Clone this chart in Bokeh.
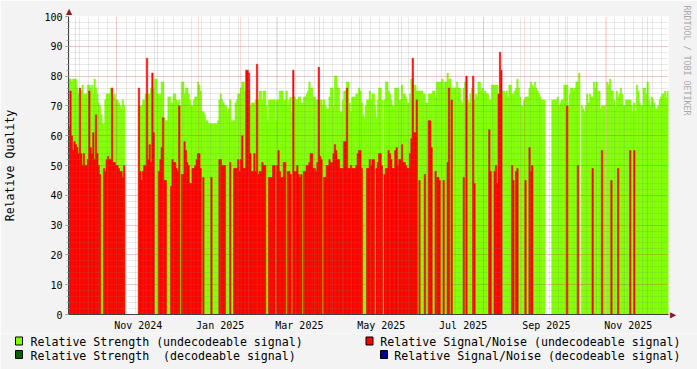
import math
import numpy as np
import pandas as pd
from datetime import datetime
from bokeh.plotting import figure
from bokeh.models import (Range1d, ColumnDataSource, FixedTicker, SingleIntervalTicker,
                          Grid, Title, DatetimeTickFormatter)
from bokeh.layouts import column
from bokeh.embed import file_html
from bokeh.resources import INLINE
from bokeh.core.properties import value

N = None
# Daily values starting 2024-09-26 (None = no data)
strength = [
    79,79,78,79,79,79,76,74,74,75,
    77,74,74,74,77,77,76,77,74,79,
    76,74,71,70,67,64,64,72,74,
    74,74,76,74,73,74,72,72,71,70,
    69,72,70,N,N,N,N,N,N,N,
    N,N,N,70,70,70,72,72,74,74,
    74,74,76,76,76,79,79,74,74,74,
    78,78,66,65,65,73,73,71,71,74,
    74,72,71,72,70,78,78,74,76,76,
    74,72,70,70,72,73,73,78,77,75,
    68,68,67,65,65,64,64,64,64,64,
    64,64,65,72,74,72,71,70,70,
    68,69,72,65,65,65,71,72,74,74,
    76,78,78,75,75,75,75,70,71,71,
    71,72,72,72,75,75,72,75,75,70,
    65,72,72,72,72,72,65,72,72,75,
    75,75,72,72,75,70,72,73,68,73,
    73,72,72,73,73,71,71,73,73,74,
    75,78,76,76,73,73,72,72,72,72,
    72,70,72,70,69,69,73,76,76,70,
    80,80,76,76,68,68,72,75,75,
    78,78,71,68,73,73,73,74,74,76,
    75,71,67,66,70,72,72,75,72,74,
    74,70,66,72,76,76,72,N,72,78,
    78,75,74,72,70,70,76,76,76,72,
    72,77,74,74,73,71,71,74,79,79,
    77,77,75,75,75,75,75,74,74,71,
    71,74,74,74,75,75,73,78,78,78,
    78,79,76,78,78,81,79,79,76,76,
    76,76,78,76,76,72,71,76,78,78,
    72,71,74,76,76,72,74,73,78,78,
    75,76,74,75,74,74,72,72,77,
    77,77,77,77,74,74,74,75,75,74,
    75,73,77,77,74,74,75,76,79,76,
    73,70,70,72,73,73,73,76,78,77,
    76,78,76,75,74,73,72,72,72,N,
    N,N,N,N,72,72,72,72,73,70,
    71,72,72,77,77,77,70,74,76,76,
    75,76,78,78,81,N,70,69,68,70,
    74,71,74,73,73,78,76,78,75,75,
    69,70,70,70,N,78,77,79,75,75,
    72,70,75,73,74,76,74,70,70,72,
    72,72,72,70,68,71,68,77,75,71,
    70,70,76,76,74,78,72,70,73,72,
    71,69,69,70,72,73,74,74,75,73,75,
]
snr = [
    63,75,60,55,58,57,56,54,76,54,
    50,54,50,50,52,75,56,54,61,52,
    67,54,50,47,0,0,49,48,52,
    53,52,52,76,51,51,50,50,49,48,
    48,46,50,N,N,N,N,N,N,N,
    N,N,N,76,48,45,48,50,50,86,
    52,57,51,81,61,0,0,0,48,52,
    56,66,45,45,0,0,0,43,52,51,
    51,49,48,70,0,47,47,58,55,51,
    50,44,44,49,49,50,52,54,54,49,
    0,46,0,0,0,0,0,46,0,0,
    0,0,0,52,52,50,50,50,0,
    0,0,51,0,0,49,49,49,52,48,
    52,60,49,49,82,82,81,54,48,48,
    54,48,84,47,48,48,51,50,50,0,
    0,46,46,46,50,50,0,50,55,48,
    46,46,51,51,0,48,48,47,0,82,
    48,48,50,47,46,47,0,48,48,50,
    50,51,54,54,49,49,48,51,83,53,
    52,0,46,46,50,50,52,51,51,54,
    57,55,52,52,49,49,49,58,58,
    76,49,49,50,49,49,49,50,54,55,
    55,49,0,0,0,49,49,52,50,52,
    52,0,49,51,54,54,50,N,47,49,
    49,55,54,52,49,49,55,56,50,52,
    52,57,51,51,50,49,49,54,59,86,
    61,61,72,0,45,0,0,0,47,0,
    0,65,65,56,0,0,48,46,46,45,
    0,0,45,0,0,51,76,0,72,0,
    0,0,0,0,0,0,0,46,0,80,
    0,0,0,0,80,44,0,0,0,0,
    0,0,0,0,0,0,62,48,0,
    0,48,50,44,74,88,82,0,0,0,
    0,0,0,0,50,45,0,48,49,0,
    0,0,0,0,45,0,0,56,48,50,
    0,0,0,0,0,0,0,0,0,N,
    N,N,N,N,0,0,0,0,0,0,
    0,0,0,0,0,70,0,0,0,0,
    0,0,0,50,0,N,0,0,0,0,
    0,0,0,0,49,0,0,0,0,0,
    0,55,0,0,N,0,0,0,45,0,
    0,0,0,49,0,0,0,0,0,0,
    0,0,55,0,0,55,0,0,0,0,
    0,0,0,0,0,0,0,0,0,0,
    0,0,0,0,0,0,0,0,0,0,0,
]
tick_labels = ["Nov 2024", "Jan 2025", "Mar 2025", "May 2025", "Jul 2025", "Sep 2025", "Nov 2025"]
legend_labels = [
    "Relative Strength (undecodeable signal)",
    "Relative Strength \u00a0(decodeable signal)",
    "Relative Signal/Noise (undecodeable signal)",
    "Relative Signal/Noise (decodeable signal)",
]
legend_colors = ["#80ff00", "#006400", "#ff0000", "#000090"]

BG = "#f3f3f3"
FONT = "DejaVu Sans Mono"
DAY_MS = 86400000
ARROW = "#8b1a1a"

dates = pd.date_range("2024-09-26", periods=len(strength), freq="D") + pd.Timedelta(hours=12)
g = np.array([np.nan if v is None else v for v in strength], dtype=float)
r = np.array([np.nan if (v is None or v == 0) else v for v in snr], dtype=float)
src = ColumnDataSource(dict(x=dates, g=g, r=r))

x_start = datetime(2024, 9, 26)
x_end = datetime(2025, 12, 17)

p = figure(width=697, height=333, x_axis_type="datetime",
           x_range=Range1d(x_start, x_end), y_range=Range1d(0, 100),
           output_backend="svg", toolbar_location=None,
           min_border_left=66, min_border_right=29, min_border_top=16, min_border_bottom=18)
p.title.visible = False
p.frame_align = False
p.background_fill_color = "white"
p.border_fill_color = BG
p.outline_line_color = None

p.vbar(x="x", top="g", bottom=0, width=DAY_MS, source=src,
       fill_color="#80ff00", line_color="#80ff00", line_width=0.6)
p.vbar(x="x", top="r", bottom=0, width=DAY_MS, source=src,
       fill_color="#ff0000", line_color="#ff0000", line_width=0.6)

MAJ, MAJ_A = "#ff0000", 0.28
MIN, MIN_A = "#808080", 0.35

# y axis / grid
p.yaxis.ticker = SingleIntervalTicker(interval=10, num_minor_ticks=5)
p.ygrid.grid_line_color = MAJ
p.ygrid.grid_line_alpha = MAJ_A
p.ygrid.grid_line_dash = "1 1"
p.ygrid.minor_grid_line_color = MIN
p.ygrid.minor_grid_line_alpha = MIN_A
p.ygrid.minor_grid_line_dash = "1 1"
p.ygrid.level = "overlay"

# x grids: weekly minor, monthly major
fridays = pd.date_range("2024-09-27", "2025-12-17", freq="7D")
months = pd.date_range("2024-10-01", "2025-12-01", freq="MS")
p.xgrid.visible = False
gmin = Grid(dimension=0, ticker=FixedTicker(ticks=[t.value / 1e6 for t in fridays]),
            grid_line_color=MIN, grid_line_alpha=MIN_A, grid_line_dash="1 1", level="overlay")
gmaj = Grid(dimension=0, ticker=FixedTicker(ticks=[t.value / 1e6 for t in months]),
            grid_line_color=MAJ, grid_line_alpha=MAJ_A, grid_line_dash="1 1", level="overlay")
p.add_layout(gmin)
p.add_layout(gmaj)

label_pos = pd.to_datetime([pd.Timestamp(datetime.strptime(s, "%b %Y")) for s in tick_labels]) + pd.Timedelta(days=16)
p.xaxis.ticker = FixedTicker(ticks=[t.value / 1e6 for t in label_pos])
fmt = "%b %Y"
p.xaxis.formatter = DatetimeTickFormatter(milliseconds=fmt, seconds=fmt, minsec=fmt, minutes=fmt,
                                          hourmin=fmt, hours=fmt, days=fmt, months=fmt, years=fmt)

for ax in (p.xaxis[0], p.yaxis[0]):
    ax.axis_line_color = "#404040"
    ax.major_label_text_font = FONT
    ax.major_label_text_font_size = "10px"
    ax.major_label_text_color = "black"

p.xaxis.major_tick_out = 0
p.xaxis.major_tick_in = 0
p.xaxis.minor_tick_out = 0
p.xaxis.minor_tick_in = 0
p.xaxis.major_label_standoff = 5

p.yaxis.major_tick_out = 3
p.yaxis.major_tick_in = 0
p.yaxis.minor_tick_out = 2
p.yaxis.minor_tick_in = 0
p.yaxis.major_tick_line_color = "#808080"
p.yaxis.minor_tick_line_color = "#b0b0b0"
p.yaxis.major_label_standoff = 3
p.yaxis.axis_label = "Relative Quality"
p.yaxis.axis_label_text_font = FONT
p.yaxis.axis_label_text_font_size = "11.6px"
p.yaxis.axis_label_text_font_style = "normal"
p.yaxis.axis_label_text_color = "black"
p.yaxis.axis_label_standoff = 24

# arrow heads at the axis ends (titles live outside the frame)
p.add_layout(Title(text="▲", align="left", offset=-2.6, standoff=2, text_font="DejaVu Sans",
                   text_font_size="8px", text_font_style="normal", text_color=ARROW), "above")
p.add_layout(Title(text="▲", align="right", offset=-4, standoff=0, text_font="DejaVu Sans",
                   text_font_size="8px", text_font_style="normal", text_color=ARROW), "right")
# watermark on the right side
p.add_layout(Title(text="RRDTOOL / TOBI OETIKER", align="left", offset=-11, text_font=FONT,
                   text_font_size="8.3px", text_font_style="normal", text_color="#a8a8a8",
                   standoff=4), "right")

# legend panel
lg = figure(width=697, height=36, x_range=Range1d(0, 697), y_range=Range1d(369, 333),
            output_backend="svg", toolbar_location=None, min_border=0,
            x_axis_location=None, y_axis_location=None)
lg.frame_align = False
lg.title.visible = False
lg.grid.visible = False
lg.outline_line_color = None
lg.background_fill_color = BG
lg.border_fill_color = BG
lg.rect(x=[18.5, 18.5, 369, 383.5], y=[340.5, 354, 340.5, 354], width=7, height=8,
        fill_color=[legend_colors[0], legend_colors[1], legend_colors[2], legend_colors[3]],
        line_color="black", line_width=1)
lg.text(x=[30, 30], y=[341.5, 355], text=legend_labels[:2], text_align="left",
        text_baseline="middle", text_font=value(FONT), text_font_size="11.6px", text_color="black")
lg.text(x=[680, 680], y=[341.5, 355], text=legend_labels[2:], text_align="right",
        text_baseline="middle", text_font=value(FONT), text_font_size="11.6px", text_color="black")

layout = column(p, lg, spacing=0)
open("out.html", "w").write(file_html(layout, INLINE))
